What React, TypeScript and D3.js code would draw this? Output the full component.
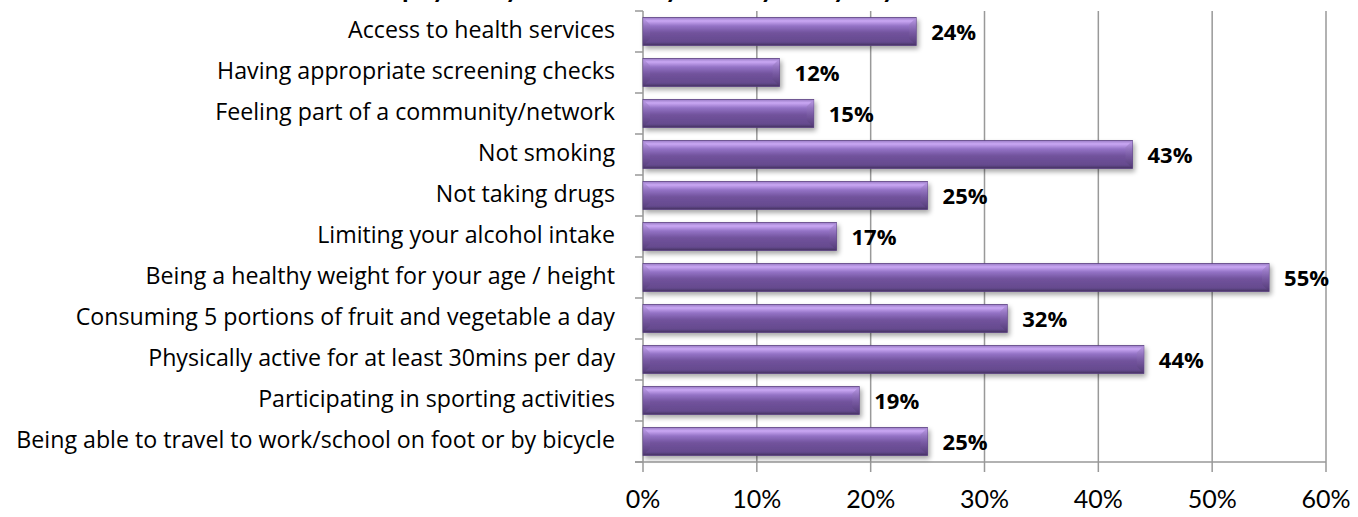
import * as d3 from "d3";

const categories = [
  "Access to health services",
  "Having appropriate screening checks",
  "Feeling part of a community/network",
  "Not smoking",
  "Not taking drugs",
  "Limiting your alcohol intake",
  "Being a healthy weight for your age / height",
  "Consuming 5 portions of fruit and vegetable a day",
  "Physically active for at least 30mins per day",
  "Participating in sporting activities",
  "Being able to travel to work/school on foot or by bicycle",
];
const values = [24, 12, 15, 43, 25, 17, 55, 32, 44, 19, 25];
const xTicks = [0, 10, 20, 30, 40, 50, 60];
// title runs off the top of the picture; only its last line's descenders show
const title = "physically and mentally healthy every day?";

const W = 1358;
const H = 517;
const margin = { top: 11, right: 32, bottom: 55, left: 643 };
const font = "Lato, 'Open Sans', sans-serif";
const labelFont = "'Open Sans', Lato, sans-serif";

const App = () => {
  const x = d3.scaleLinear().domain([0, 60]).range([margin.left, W - margin.right]);
  const y = d3
    .scaleBand<string>()
    .domain(categories)
    .range([margin.top, H - margin.bottom])
    .paddingInner(0.32)
    .paddingOuter(0.16);
  const step = y.step();
  const bottom = H - margin.bottom;
  const bev = 7;

  return (
    <svg
      width={W}
      height={H}
      style={{ position: "absolute", left: 0, top: 0, display: "block", background: "#fff" }}
    >
      <defs>
        <linearGradient id="barFill" x1="0" y1="0" x2="0" y2="1">
          <stop offset="0" stopColor="#9a7cc6" />
          <stop offset="0.12" stopColor="#caa8f4" />
          <stop offset="0.3" stopColor="#9473c6" />
          <stop offset="0.55" stopColor="#71529c" />
          <stop offset="0.88" stopColor="#654a8e" />
          <stop offset="1" stopColor="#45305f" />
        </linearGradient>
        <linearGradient id="endFill" x1="0" y1="0" x2="0" y2="1">
          <stop offset="0" stopColor="#b596e0" />
          <stop offset="0.5" stopColor="#7d5fa8" />
          <stop offset="1" stopColor="#4e3770" />
        </linearGradient>
        <filter id="shadow" x="-5%" y="-30%" width="110%" height="180%">
          <feGaussianBlur in="SourceAlpha" stdDeviation="2.5" />
          <feOffset dx="2" dy="3" result="b" />
          <feComponentTransfer>
            <feFuncA type="linear" slope="0.35" />
          </feComponentTransfer>
          <feMerge>
            <feMergeNode />
            <feMergeNode in="SourceGraphic" />
          </feMerge>
        </filter>
      </defs>

      <text
        x={655}
        y={-2}
        textAnchor="middle"
        fontFamily={font}
        fontWeight="bold"
        fontSize={27}
        fill="#000"
      >
        {title}
      </text>

      {/* vertical gridlines */}
      {xTicks.map((t) => (
        <line
          key={t}
          x1={x(t)}
          x2={x(t)}
          y1={margin.top}
          y2={bottom + 10}
          stroke="#999"
          strokeWidth={1.5}
        />
      ))}

      {/* x axis line */}
      <line x1={margin.left - 8} x2={x(60)} y1={bottom} y2={bottom} stroke="#999" strokeWidth={1.5} />

      {/* y axis ticks at band boundaries */}
      {d3.range(categories.length + 1).map((i) => {
        const yy = margin.top + i * step;
        return (
          <line
            key={i}
            x1={margin.left - 8}
            x2={margin.left}
            y1={yy}
            y2={yy}
            stroke="#999"
            strokeWidth={1.5}
          />
        );
      })}

      {/* bars */}
      {categories.map((c, i) => {
        const x0 = x(0);
        const x1 = x(values[i]);
        const y0 = y(c) as number;
        const y1 = y0 + y.bandwidth();
        return (
          <g key={c} filter="url(#shadow)">
            <rect x={x0} y={y0} width={x1 - x0} height={y1 - y0} fill="url(#barFill)" stroke="#5a4080" strokeWidth={0.8} />
            <polygon
              points={`${x0},${y0} ${x0 + bev},${y0 + bev} ${x0 + bev},${y1 - bev} ${x0},${y1}`}
              fill="url(#endFill)"
              opacity={0.7}
            />
            <polygon
              points={`${x1},${y0} ${x1 - bev},${y0 + bev} ${x1 - bev},${y1 - bev} ${x1},${y1}`}
              fill="url(#endFill)"
              opacity={0.8}
            />
          </g>
        );
      })}

      {/* value labels */}
      {categories.map((c, i) => (
        <text
          key={c}
          x={x(values[i]) + 15}
          y={(y(c) as number) + y.bandwidth() / 2 + 3}
          dominantBaseline="middle"
          fontFamily={labelFont}
          fontWeight="bold"
          fontSize={22}
          fill="#000"
        >
          {values[i]}%
        </text>
      ))}

      {/* category labels */}
      {categories.map((c) => (
        <text
          key={c}
          x={615}
          y={(y(c) as number) + y.bandwidth() / 2}
          textAnchor="end"
          dominantBaseline="middle"
          fontFamily={labelFont}
          fontSize={23.2}
          fill="#000"
        >
          {c}
        </text>
      ))}

      {/* x tick labels */}
      {xTicks.map((t) => (
        <text
          key={t}
          x={x(t)}
          y={508}
          textAnchor="middle"
          fontFamily={font}
          fontSize={25}
          fill="#000"
        >
          {t}%
        </text>
      ))}
    </svg>
  );
};

export default App;
